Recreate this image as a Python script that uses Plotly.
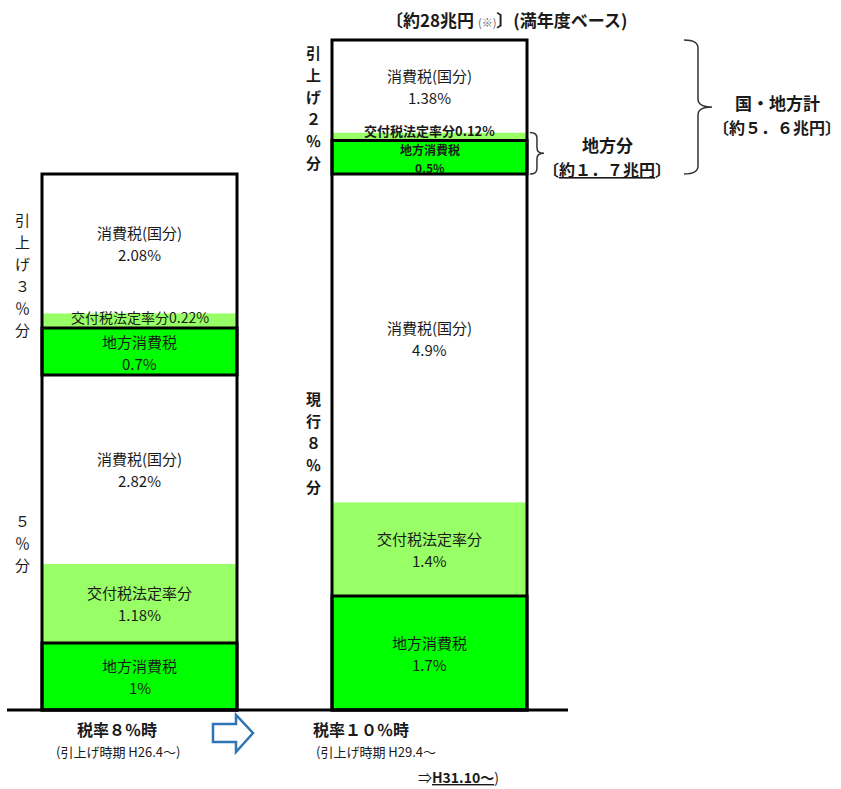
import plotly.graph_objects as go

# ---- data -------------------------------------------------------------
bar_labels = ["税率８％時", "税率１０％時"]
bar_notes = ["(引上げ時期 H26.4～)", "(引上げ時期 H29.4～"]
segment_names = ["地方消費税", "交付税法定率分", "消費税(国分)",
                 "地方消費税", "交付税法定率分", "消費税(国分)"]
segment_kinds = ["local", "grant", "national", "local", "grant", "national"]
rate8_parts = [1.0, 1.18, 2.82, 0.7, 0.22, 2.08]
rate10_parts = [1.7, 1.4, 4.9, 0.5, 0.12, 1.38]
single_line = [False, False, False, False, True, False]
group_labels8 = ["５％分", "引上げ３％分"]
group_labels10 = ["現行８％分", "引上げ２％分"]
group_split = 3

# ---- geometry helpers --------------------------------------------------
W, H = 841, 789
PX_PER_X = 290.0          # pixels between the two bar centres
X_ORIGIN_PX = 139.5       # pixel position of the first bar centre
PX_PER_PCT = 67.0         # vertical pixels per percentage point
TOP_PX = 40.0             # pixel row of the 10% line

x_range = [-X_ORIGIN_PX / PX_PER_X, (W - X_ORIGIN_PX) / PX_PER_X]
y_top = 10 + TOP_PX / PX_PER_PCT
y_range = [y_top - H / PX_PER_PCT, y_top]
BAR_W = 195 / PX_PER_X


def xd(px):
    return x_range[0] + px / PX_PER_X


def xp(px):
    return px / W


def yp(py):
    return 1 - py / H


FONT = "Noto Sans CJK JP"
TXT = "#1a1a1a"
fill = {"local": "#00FF00", "grant": "#99FF66", "national": "#FFFFFF"}

series = [rate8_parts, rate10_parts]
bases = []
for parts in series:
    acc, b = 0.0, []
    for v in parts:
        b.append(acc)
        acc += v
    bases.append(b)
totals = [sum(p) for p in series]

fig = go.Figure()

# fills first, bordered local-tax segments last so their strokes stay on top
order = [i for i in range(6) if segment_kinds[i] != "local"] + \
        [i for i in range(6) if segment_kinds[i] == "local"]
for i in order:
    kind = segment_kinds[i]
    fig.add_trace(go.Bar(
        x=[0, 1],
        y=[rate8_parts[i], rate10_parts[i]],
        base=[bases[0][i], bases[1][i]],
        width=BAR_W,
        marker=dict(color=fill[kind],
                    line=dict(color="#000000", width=3 if kind == "local" else 0)),
        name=segment_names[i],
        hoverinfo="skip",
        showlegend=False,
    ))

# outer outline of each column
fig.add_trace(go.Bar(
    x=[0, 1], y=totals, base=[0, 0], width=BAR_W,
    marker=dict(color="rgba(0,0,0,0)", line=dict(color="#000000", width=3)),
    hoverinfo="skip", showlegend=False,
))

annotations = []


def add_lines(x, y, lines, size, pitch, ref="data", bold=False, shift=0):
    """One annotation per text line, stacked around (x, y) with a fixed pitch."""
    n = len(lines)
    for k, line in enumerate(lines):
        txt = f"<b>{line}</b>" if bold else line
        a = dict(x=x, y=y, text=txt, showarrow=False,
                 font=dict(family=FONT, size=size, color=TXT),
                 xanchor="center", yanchor="middle",
                 yshift=shift + ((n - 1) / 2 - k) * pitch)
        if ref == "data":
            a.update(xref="x", yref="y")
        else:
            a.update(xref="paper", yref="paper")
        annotations.append(a)


# segment labels
for b, parts in enumerate(series):
    for i, v in enumerate(parts):
        pct = f"{v:g}%"
        mid = bases[b][i] + v / 2
        upper = i >= group_split
        bold = b == 1 and upper and segment_kinds[i] != "national"
        if single_line[i]:
            add_lines(b, mid, [f"{segment_names[i]}{pct}"],
                      size=13 if b == 1 else 14, pitch=0, bold=bold,
                      shift=6 if b == 1 else 4)
        elif upper and segment_kinds[i] == "local":
            if b == 1:
                add_lines(b, mid, [segment_names[i], pct], size=12, pitch=17.5,
                          bold=bold, shift=-1)
            else:
                add_lines(b, mid, [segment_names[i], pct], size=15, pitch=22,
                          bold=bold, shift=-1)
        else:
            add_lines(b, mid, [segment_names[i], pct], size=15, pitch=22, bold=bold)

# vertical group labels beside each column
for b, (labels, parts) in enumerate([(group_labels8, rate8_parts),
                                     (group_labels10, rate10_parts)]):
    lo = sum(parts[:group_split])
    hi = sum(parts)
    mids = [lo / 2, (lo + hi) / 2]
    x_px = 22 if b == 0 else 313
    for lab, m in zip(labels, mids):
        add_lines(xd(x_px), m, list(lab), size=15, pitch=22, bold=(b == 1))

# headline above the 10% column
annotations.append(dict(
    x=xp(507), y=yp(19), xref="paper", yref="paper", showarrow=False,
    xanchor="center", yanchor="middle",
    text="<b>〔約28兆円 </b><span style='font-size:11px;color:#666'>(※)</span>"
         "<b>〕(満年度ベース)</b>",
    font=dict(family=FONT, size=17, color=TXT),
))

# brace captions
add_lines(xp(607), yp(144), ["地方分"], 17, 0, ref="paper", bold=True)
add_lines(xp(607), yp(169), ["〔<u>約１．７兆円</u>〕"], 16, 0, ref="paper", bold=True)
add_lines(xp(777), yp(102), ["国・地方計"], 17, 0, ref="paper", bold=True)
add_lines(xp(777), yp(127), ["〔約５．６兆円〕"], 16, 0, ref="paper", bold=True)

# captions under the columns
add_lines(xp(117), yp(729), [bar_labels[0]], 16, 0, ref="paper", bold=True)
add_lines(xp(118), yp(751), [bar_notes[0]], 13, 0, ref="paper")
add_lines(xp(361), yp(729), [bar_labels[1]], 16, 0, ref="paper", bold=True)
add_lines(xp(376), yp(751), [bar_notes[1]], 13, 0, ref="paper")
add_lines(xp(458), yp(777), ["⇒<b><u>H31.10～</u></b>)"], 14, 0, ref="paper")


def brace_path(xl, xr, yb, yt, r):
    xm = (xl + xr) / 2
    ym = (yb + yt) / 2
    return (f"M {xl},{yt} Q {xm},{yt} {xm},{yt - r} L {xm},{ym + r} "
            f"Q {xm},{ym} {xr},{ym} Q {xm},{ym} {xm},{ym - r} "
            f"L {xm},{yb + r} Q {xm},{yb} {xl},{yb}")


r_y = 8 / PX_PER_PCT
right_edge = 1 + BAR_W / 2
local_lo = bases[1][group_split]
local_hi = bases[1][group_split + 2]
shapes = [
    # baseline
    dict(type="line", xref="x", yref="y", x0=xd(7), x1=xd(568), y0=0, y1=0,
         line=dict(color="#000000", width=3)),
    # brace around the local share of the increase
    dict(type="path", xref="x", yref="y",
         path=brace_path(right_edge + 0.01, xd(544), local_lo, local_hi, r_y * 0.7),
         line=dict(color="#333333", width=1.5)),
    # brace around the whole increase
    dict(type="path", xref="x", yref="y",
         path=brace_path(xd(684), xd(712), bases[1][group_split], totals[1], r_y),
         line=dict(color="#333333", width=1.5)),
]

# hollow arrow between the columns
pts = [(213, 724), (236, 724), (236, 715), (253, 733), (236, 752), (236, 742), (213, 742)]
arrow = "M " + " L ".join(f"{xp(a)},{yp(b)}" for a, b in pts) + " Z"
shapes.append(dict(type="path", xref="paper", yref="paper", path=arrow,
                   fillcolor="#FFFFFF", line=dict(color="#2E75B6", width=2.5)))

fig.update_layout(
    width=W, height=H,
    margin=dict(l=0, r=0, t=0, b=0),
    barmode="overlay",
    paper_bgcolor="#FFFFFF", plot_bgcolor="#FFFFFF",
    xaxis=dict(range=x_range, visible=False, fixedrange=True),
    yaxis=dict(range=y_range, visible=False, fixedrange=True),
    annotations=annotations,
    shapes=shapes,
    font=dict(family=FONT),
)

fig.write_html("out.html")
